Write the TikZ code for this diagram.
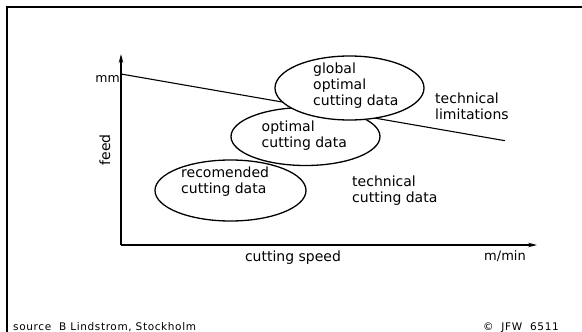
\documentclass[tikz,border=0pt]{standalone}
\usepackage{fontspec}
\setmainfont{DejaVu Sans}
\newfontfamily\footfont[LetterSpace=6]{DejaVu Sans}
\usetikzlibrary{shapes.geometric,arrows.meta}

\begin{document}
\begin{tikzpicture}[x=1pt,y=-1pt,
  lbl/.style={inner sep=0pt,align=left,font=\fontsize{14}{16}\selectfont},
  small/.style={inner sep=0pt,font=\footfont\fontsize{10.5}{12}\selectfont},
  region/.style={ellipse,draw,fill=white,line width=1.3pt,inner sep=0pt},
  axis/.style={line width=1.2pt,-{Stealth[length=9pt,width=4.5pt]}},
  limit/.style={line width=1.1pt}]
\useasboundingbox (0,0) rectangle (582,332);

% frame (top and left edges)
\draw[line width=1.8pt] (7,332) -- (7,7) -- (582,7);

% axes
\coordinate (origin) at (121,245);
\coordinate (ytip) at (121,54);
\coordinate (xtip) at (537,245);
\draw[axis] (origin) -- (ytip);
\draw[axis] (origin) -- (xtip);

% technical limitation line
\coordinate (limA) at (121,74);
\coordinate (limB) at (505,140.7);
\draw[limit] (limA) -- (limB);

% regions of cutting data
\node[region,minimum width=151pt,minimum height=61pt] (rec) at (230.5,190.5) {};
\node[region,minimum width=149pt,minimum height=58pt] (opt) at (305.5,136.5) {};
\node[region,minimum width=149pt,minimum height=64pt] (glob) at (349.5,88) {};

\node[lbl,anchor=west] (globtxt) at (313,86) {\fontsize{14}{15.3}\selectfont global\\optimal\\cutting data};
\node[lbl,anchor=west] (opttxt) at (261.5,135.5) {optimal\\cutting data};
\node[lbl,anchor=west] (rectxt) at (181,181.5) {recomended\\cutting data};

\node[lbl,anchor=west] (techlim) at (435,106.5) {\fontsize{14}{15}\selectfont technical\\limitations};
\node[lbl,anchor=west] (techcut) at (352,191) {\fontsize{14}{15.3}\selectfont technical\\cutting data};

% axis labels
\node[lbl,anchor=east,font=\fontsize{12.5}{14}\selectfont] (mm) at (120,79) {mm};
\node[lbl,rotate=90] (feed) at (105,150) {feed};
\node[lbl] (speed) at (293,258) {cutting speed};
\node[lbl,font=\fontsize{13}{15}\selectfont] (mmin) at (505,256.5) {m/min};

% footer
\node[small,anchor=west] (src) at (13,327.5) {source\ \ B Lindstrom, Stockholm};
\node[small,anchor=east] (copy) at (559,327.5) {©\ \ JFW\ \ 6511};
\end{tikzpicture}
\end{document}
